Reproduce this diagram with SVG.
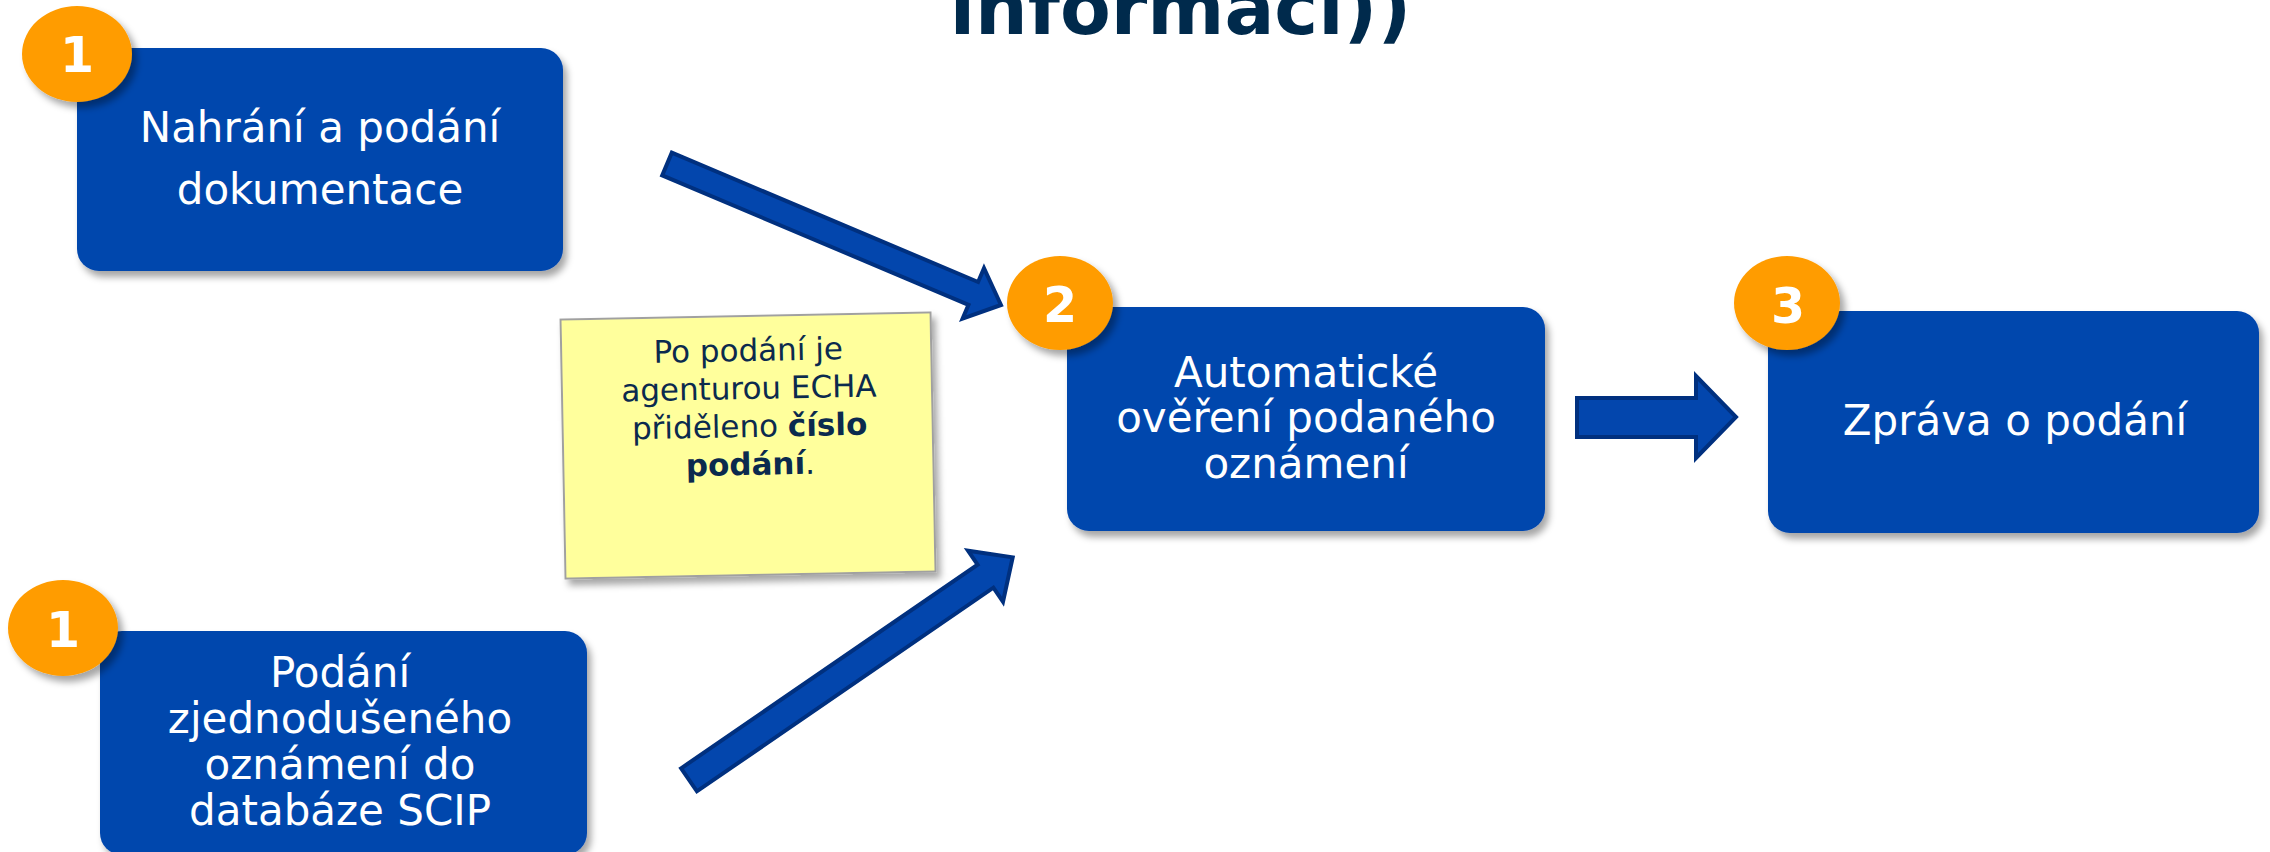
<svg xmlns="http://www.w3.org/2000/svg" width="2270" height="852" viewBox="0 0 2270 852">
<defs>
<filter id="sh" x="-10%" y="-10%" width="125%" height="130%">
<feDropShadow dx="4" dy="6" stdDeviation="3.5" flood-color="#000" flood-opacity="0.35"/>
</filter>
<filter id="shb" x="-20%" y="-20%" width="150%" height="150%">
<feDropShadow dx="5" dy="6" stdDeviation="3.5" flood-color="#000" flood-opacity="0.35"/>
</filter>
<style>
.box{fill:#0346ad;filter:url(#sh)}
.badge{fill:#ff9c00;filter:url(#shb)}
.num{font-family:"DejaVu Sans",Verdana,sans-serif;font-weight:bold;font-size:49px;fill:#fff;text-anchor:middle}
.lbl{font-family:"DejaVu Sans",Verdana,sans-serif;font-size:42px;fill:#fff;text-anchor:middle}
.arrow{fill:#0346ad;stroke:#00307f;stroke-width:4;stroke-linejoin:miter}
.note{fill:#ffff9c;stroke:#a0a0a0;stroke-width:2;filter:url(#sh)}
.ntxt{font-family:"DejaVu Sans",Verdana,sans-serif;font-size:31px;fill:#0b2a4e;text-anchor:middle}
.title{font-family:"DejaVu Sans",Verdana,sans-serif;font-weight:bold;font-size:74px;fill:#002a4c;text-anchor:middle}
</style>
</defs>
<rect width="2270" height="852" fill="#fff"/>
<text class="title" x="1180.5" y="34">informací))</text>
<g id="connectors">
<polygon class="arrow" points="671.8,152.6 978.1,282 984,268.1 1001,305 962.6,318.7 968.5,304.8 662.2,175.4"/>
<polygon class="arrow" points="681.1,768.3 977.6,564.7 968,550.7 1012.7,557.3 1003,601.7 993.4,587.7 696.9,791.3"/>
<polygon class="arrow" points="1577,398 1696,398 1696,376 1736,417 1696,458 1696,437 1577,437"/>
</g>
<g id="note" transform="rotate(-1.1 748 445)">
<rect class="note" x="563" y="316" width="370" height="259"/>
<text class="ntxt" x="750" y="361">Po podání je</text>
<text class="ntxt" x="750" y="399">agenturou ECHA</text>
<text class="ntxt" x="750" y="437">přiděleno <tspan font-weight="bold">číslo</tspan></text>
<text class="ntxt" x="750" y="475"><tspan font-weight="bold">podání</tspan>.</text>
</g>
<g id="node-upload">
<rect class="box" x="77" y="48" width="486" height="223" rx="22"/>
<text class="lbl" x="320" y="142">Nahrání a podání</text>
<text class="lbl" x="320" y="204">dokumentace</text>
<ellipse class="badge" cx="77" cy="54" rx="55" ry="48"/>
<text class="num" x="77" y="72">1</text>
</g>
<g id="node-simple">
<rect class="box" x="100" y="631" width="487" height="224" rx="22"/>
<text class="lbl" x="340" y="687">Podání</text>
<text class="lbl" x="340" y="733">zjednodušeného</text>
<text class="lbl" x="340" y="779">oznámení do</text>
<text class="lbl" x="340" y="825">databáze SCIP</text>
<ellipse class="badge" cx="63" cy="628" rx="55" ry="48"/>
<text class="num" x="63" y="647">1</text>
</g>
<g id="node-check">
<rect class="box" x="1067" y="307" width="478" height="224" rx="22"/>
<text class="lbl" x="1306" y="387">Automatické</text>
<text class="lbl" x="1306" y="432">ověření podaného</text>
<text class="lbl" x="1306" y="478">oznámení</text>
<ellipse class="badge" cx="1060" cy="303" rx="53" ry="47"/>
<text class="num" x="1060" y="322">2</text>
</g>
<g id="node-report">
<rect class="box" x="1768" y="311" width="491" height="222" rx="22"/>
<text class="lbl" x="2015" y="435">Zpráva o podání</text>
<ellipse class="badge" cx="1787" cy="303" rx="53" ry="47"/>
<text class="num" x="1788" y="323">3</text>
</g>
</svg>
